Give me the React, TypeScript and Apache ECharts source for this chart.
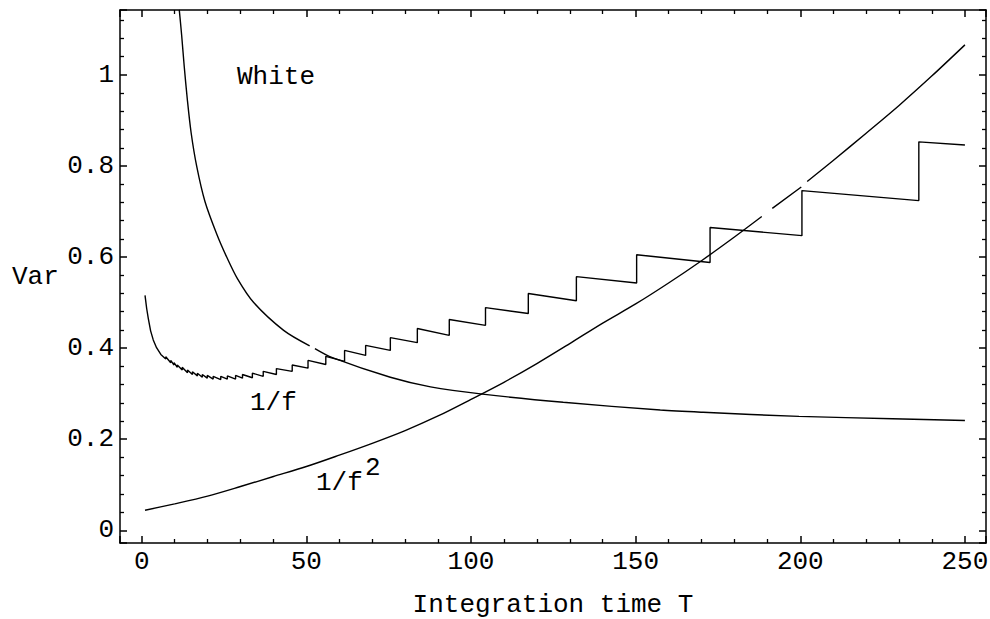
import { useEffect, useRef } from "react";
import * as echarts from "echarts";

// Axis ticks
const xTickValues = [0, 50, 100, 150, 200, 250];
const xTickLabels = ["0", "50", "100", "150", "200", "250"];
const yTickValues = [0, 0.2, 0.4, 0.6, 0.8, 1];
const yTickLabels = ["0", "0.2", "0.4", "0.6", "0.8", "1"];

// White noise curve (null = printed gap)
const whiteT = [11.4, 12.15, 12.9, 13.85, 15.0, 16.7, 19.2, 22.8, 25.8, 29.1, 34.0, 43.1, 51.0, 51.8, 52.6, 57.9, 75.5, 87.7, 103.5, 128, 157.5, 170.5, 199.6, 228, 250];
const whiteV = [1.143, 1.085, 1.019, 0.946, 0.873, 0.799, 0.722, 0.65, 0.6, 0.552, 0.5, 0.439, 0.405, null, 0.399, 0.379, 0.336, 0.315, 0.299, 0.281, 0.264, 0.259, 0.25, 0.245, 0.241];

// 1/f curve: initial descent, then sawtooth jumps
const fStartT = [1, 1.5, 2, 2.7, 3.5, 4.5, 5.8];
const fStartV = [0.516, 0.487, 0.465, 0.438, 0.418, 0.401, 0.386];
const fJumpT = [7.3, 8.8, 9.8, 10.8, 12.3, 13.9, 15.4, 16.9, 18.4, 19.9, 21.7, 24.0, 26.0, 28.5, 30.6, 33.6, 36.9, 40.9, 45.7, 50.5, 55.9, 61.6, 68.0, 75.5, 83.7, 93.4, 104.4, 117.4, 132.0, 150.3, 172.6, 200.5, 236.0];
const fBelow = [0.376, 0.368, 0.363, 0.358, 0.352, 0.346, 0.342, 0.339, 0.336, 0.334, 0.332, 0.331, 0.332, 0.332, 0.334, 0.335, 0.338, 0.342, 0.349, 0.356, 0.364, 0.371, 0.384, 0.395, 0.412, 0.428, 0.45, 0.476, 0.504, 0.543, 0.588, 0.647, 0.724];
const fAbove = [0.381, 0.373, 0.368, 0.363, 0.358, 0.352, 0.348, 0.345, 0.342, 0.34, 0.338, 0.338, 0.339, 0.34, 0.342, 0.345, 0.349, 0.355, 0.363, 0.373, 0.382, 0.395, 0.406, 0.423, 0.443, 0.463, 0.489, 0.52, 0.557, 0.605, 0.665, 0.746, 0.853];
const fEndT = [250];
const fEndV = [0.846];

// 1/f^2 curve (null = printed gap)
const f2T = [1, 10, 20, 30, 40, 50, 60, 70, 80, 90, 100, 110, 120, 130, 140, 150, 160, 170, 180, 188.3, 189.9, 191.5, 200.3, 201.2, 202.1, 210, 220, 230, 240, 250];
const f2V = [0.044, 0.058, 0.075, 0.096, 0.118, 0.14, 0.165, 0.191, 0.219, 0.251, 0.2875, 0.325, 0.366, 0.41, 0.455, 0.497, 0.543, 0.592, 0.644, 0.689, null, 0.707, 0.754, null, 0.766, 0.812, 0.872, 0.933, 0.998, 1.066];

const FONT = "'Liberation Mono', 'DejaVu Sans Mono', monospace";
const FS = 26;

function pairs(t: number[], v: (number | null)[]) {
  return t.map((x, i) => [x, v[i]]);
}

function labelFor(values: number[], labels: string[]) {
  return (v: number) => {
    const i = values.findIndex((t) => Math.abs(t - v) < 1e-6);
    return i >= 0 ? labels[i] : "";
  };
}

export default function App() {
  const ref = useRef<HTMLDivElement>(null);

  useEffect(() => {
    if (!ref.current) return;
    const chart = echarts.init(ref.current, null, { renderer: "svg" });

    const fData: (number | null)[][] = [];
    fStartT.forEach((t, i) => fData.push([t, fStartV[i]]));
    fJumpT.forEach((t, i) => {
      fData.push([t, fBelow[i]]);
      fData.push([t, fAbove[i]]);
    });
    fEndT.forEach((t, i) => fData.push([t, fEndV[i]]));

    const axisLine = () => ({ show: true, onZero: false, lineStyle: { color: "#000", width: 1.5 } });
    const tick = () => ({ show: true, inside: true, length: 7, lineStyle: { color: "#000", width: 1.5 } });
    const minor = () => ({ show: true, splitNumber: 5, length: 4, lineStyle: { color: "#000", width: 1.3 } });
    const xRange = { min: -6.6, max: 256.4 };
    const yRange = { min: -0.028, max: 1.1426 };

    const lineStyle = { color: "#000", width: 1.4 };
    const textEl = (text: string, x: number, y: number) => ({
      type: "text",
      x,
      y,
      style: { text, fill: "#000", font: `${FS}px ${FONT}`, verticalAlign: "middle", align: "left" },
    });

    chart.setOption({
      animation: false,
      backgroundColor: "#fff",
      grid: { left: 120, right: 4, top: 10, bottom: 76, containLabel: false, outerBoundsMode: "none" },
      xAxis: [
        {
          type: "value",
          position: "bottom",
          ...xRange,
          axisLine: axisLine(),
          axisTick: tick(),
          minorTick: minor(),
          splitLine: { show: false },
          axisLabel: {
            show: true,
            showMinLabel: false,
            showMaxLabel: false,
            margin: 6,
            color: "#000",
            fontFamily: FONT,
            fontSize: FS,
            formatter: labelFor(xTickValues, xTickLabels),
          },
          name: "Integration time T",
          nameLocation: "middle",
          nameGap: 49,
          nameTextStyle: { color: "#000", fontFamily: FONT, fontSize: FS },
        },
        {
          type: "value",
          position: "top",
          ...xRange,
          axisLine: axisLine(),
          axisTick: tick(),
          minorTick: minor(),
          splitLine: { show: false },
          axisLabel: { show: false },
        },
      ],
      yAxis: [
        {
          type: "value",
          position: "left",
          ...yRange,
          axisLine: axisLine(),
          axisTick: tick(),
          minorTick: minor(),
          splitLine: { show: false },
          axisLabel: {
            show: true,
            showMinLabel: false,
            showMaxLabel: false,
            margin: 6,
            color: "#000",
            fontFamily: FONT,
            fontSize: FS,
            formatter: labelFor(yTickValues, yTickLabels),
          },
        },
        {
          type: "value",
          position: "right",
          ...yRange,
          axisLine: axisLine(),
          axisTick: tick(),
          minorTick: minor(),
          splitLine: { show: false },
          axisLabel: { show: false },
        },
      ],
      series: [
        {
          name: "White",
          type: "line",
          data: pairs(whiteT, whiteV),
          showSymbol: false,
          smooth: 0.3,
          connectNulls: false,
          clip: true,
          lineStyle,
        },
        {
          name: "1/f",
          type: "line",
          data: fData,
          showSymbol: false,
          clip: true,
          lineStyle,
        },
        {
          name: "1/f^2",
          type: "line",
          data: pairs(f2T, f2V),
          showSymbol: false,
          smooth: 0.3,
          connectNulls: false,
          clip: true,
          lineStyle,
        },
      ],
      graphic: {
        elements: [
          textEl("Var", 12, 277),
          textEl("White", 237, 77),
          textEl("1/f", 250, 403),
          textEl("1/f", 316, 483),
          textEl("2", 365, 468),
        ],
      },
    });

    return () => chart.dispose();
  }, []);

  return (
    <div
      ref={ref}
      style={{ position: "absolute", left: 0, top: 0, width: 990, height: 619, background: "#fff" }}
    />
  );
}
